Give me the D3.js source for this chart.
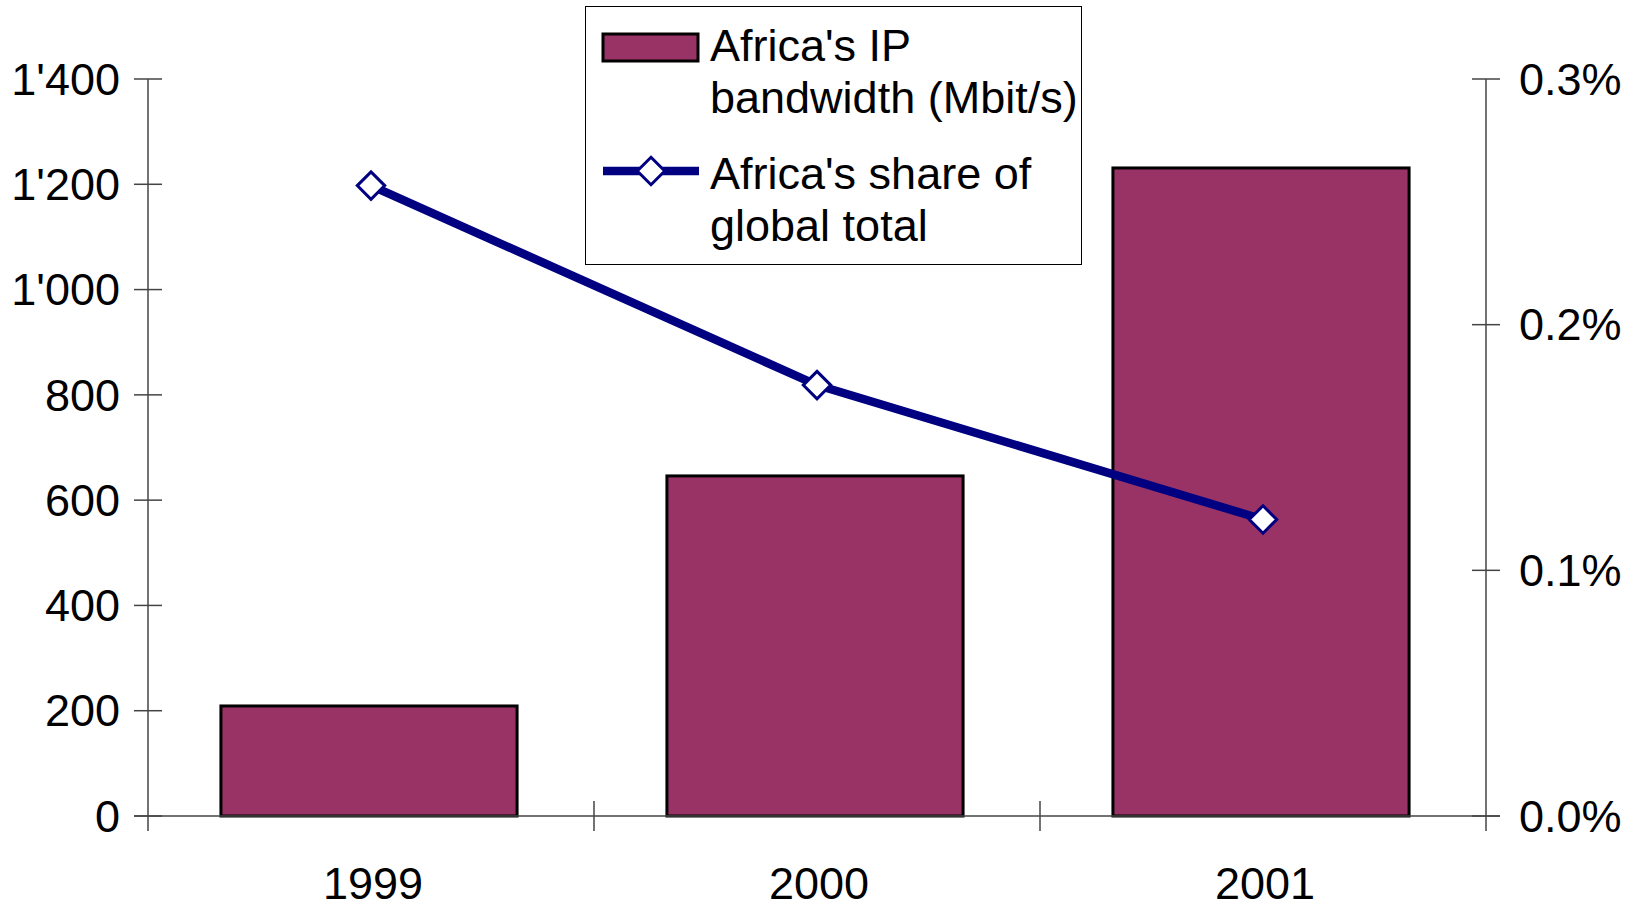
<!DOCTYPE html>
<html>
<head>
<meta charset="utf-8">
<script src="https://cdn.jsdelivr.net/npm/d3@7"></script>
<style>
  body { margin: 0; background: #fff; }
  text { font-family: "Liberation Sans", Arial, sans-serif; fill: #000; }
</style>
</head>
<body>
<svg width="1636" height="909"></svg>
<script>
const years = ["1999", "2000", "2001"];
const bandwidth = [209, 646, 1231];
const share = [0.2566, 0.1754, 0.1207];
const leftTicks = [0, 200, 400, 600, 800, 1000, 1200, 1400];
const rightTicks = [0, 0.1, 0.2, 0.3];
const legendLabels = [["Africa's IP", "bandwidth (Mbit/s)"], ["Africa's share of", "global total"]];

const svg = d3.select("svg");
const plotL = 148, plotR = 1486, plotT = 79, plotB = 816;

const x = d3.scaleBand().domain(years).range([plotL, plotR]);
const y = d3.scaleLinear().domain([0, 1400]).range([plotB, plotT]);
const y2 = d3.scaleLinear().domain([0, 0.3]).range([plotB, plotT]);

const fmt = d => d >= 1000 ? Math.floor(d / 1000) + "'" + d3.format("03")(d % 1000) : String(d);

// bars
const barW = x.bandwidth() * 0.664;
svg.append("g").selectAll("rect")
  .data(years)
  .join("rect")
  .attr("x", (d) => x(d) + x.bandwidth() / 2 - barW / 2 - 2)
  .attr("y", (d, i) => y(bandwidth[i]))
  .attr("width", barW)
  .attr("height", (d, i) => y(0) - y(bandwidth[i]))
  .attr("fill", "#993366")
  .attr("stroke", "#000")
  .attr("stroke-width", 3);

// axes
const ax = svg.append("g").attr("stroke", "#444").attr("stroke-width", 1.5);
ax.append("line").attr("x1", plotL).attr("x2", plotL).attr("y1", plotT).attr("y2", plotB + 15);
ax.append("line").attr("x1", plotR).attr("x2", plotR).attr("y1", plotT).attr("y2", plotB + 15);
ax.append("line").attr("x1", plotL - 14).attr("x2", plotR + 14).attr("y1", plotB).attr("y2", plotB);
ax.selectAll(".lt").data(leftTicks).join("line")
  .attr("x1", plotL - 14).attr("x2", plotL + 14)
  .attr("y1", d => y(d)).attr("y2", d => y(d));
ax.selectAll(".rt").data(rightTicks).join("line")
  .attr("x1", plotR - 14).attr("x2", plotR + 14)
  .attr("y1", d => y2(d)).attr("y2", d => y2(d));
ax.selectAll(".xt").data(years.slice(1)).join("line")
  .attr("x1", d => x(d)).attr("x2", d => x(d))
  .attr("y1", plotB - 15).attr("y2", plotB + 15);

svg.append("g").selectAll("text").data(leftTicks).join("text")
  .attr("x", 120).attr("y", d => y(d))
  .attr("dy", "0.35em")
  .attr("text-anchor", "end")
  .attr("font-size", 45)
  .text(fmt);

svg.append("g").selectAll("text").data(rightTicks).join("text")
  .attr("x", 1519).attr("y", d => y2(d))
  .attr("dy", "0.35em")
  .attr("font-size", 45)
  .text(d => d3.format(".1f")(d) + "%");

svg.append("g").selectAll("text").data(years).join("text")
  .attr("x", d => x(d) + x.bandwidth() / 2 + 2).attr("y", 899)
  .attr("text-anchor", "middle")
  .attr("font-size", 45)
  .text(d => d);

// line
const pts = years.map((d, i) => [x(d) + x.bandwidth() / 2, y2(share[i])]);
svg.append("path")
  .attr("d", d3.line()(pts))
  .attr("fill", "none")
  .attr("stroke", "#000080")
  .attr("stroke-width", 8.5);

const diamond = d3.symbol().type(d3.symbolDiamond2).size(480);
svg.append("g").selectAll("path").data(pts).join("path")
  .attr("transform", d => `translate(${d[0]},${d[1]})`)
  .attr("d", diamond)
  .attr("fill", "#fff")
  .attr("stroke", "#000080")
  .attr("stroke-width", 3);

// legend
const lg = svg.append("g");
lg.append("rect").attr("x", 585.5).attr("y", 6.5).attr("width", 496).attr("height", 258)
  .attr("fill", "#fff").attr("stroke", "#000").attr("stroke-width", 1);
lg.append("rect").attr("x", 603).attr("y", 34).attr("width", 95).attr("height", 27)
  .attr("fill", "#993366").attr("stroke", "#000").attr("stroke-width", 3);
lg.append("line").attr("x1", 603).attr("x2", 699).attr("y1", 171).attr("y2", 171)
  .attr("stroke", "#000080").attr("stroke-width", 8.5);
lg.append("path").attr("transform", "translate(651,171)").attr("d", diamond)
  .attr("fill", "#fff").attr("stroke", "#000080").attr("stroke-width", 3);
const baselines = [[61, 113], [189, 241]];
legendLabels.forEach((lines, i) => {
  lines.forEach((t, j) => {
    lg.append("text").attr("x", 710).attr("y", baselines[i][j])
      .attr("font-size", 45).text(t);
  });
});
</script>
</body>
</html>
